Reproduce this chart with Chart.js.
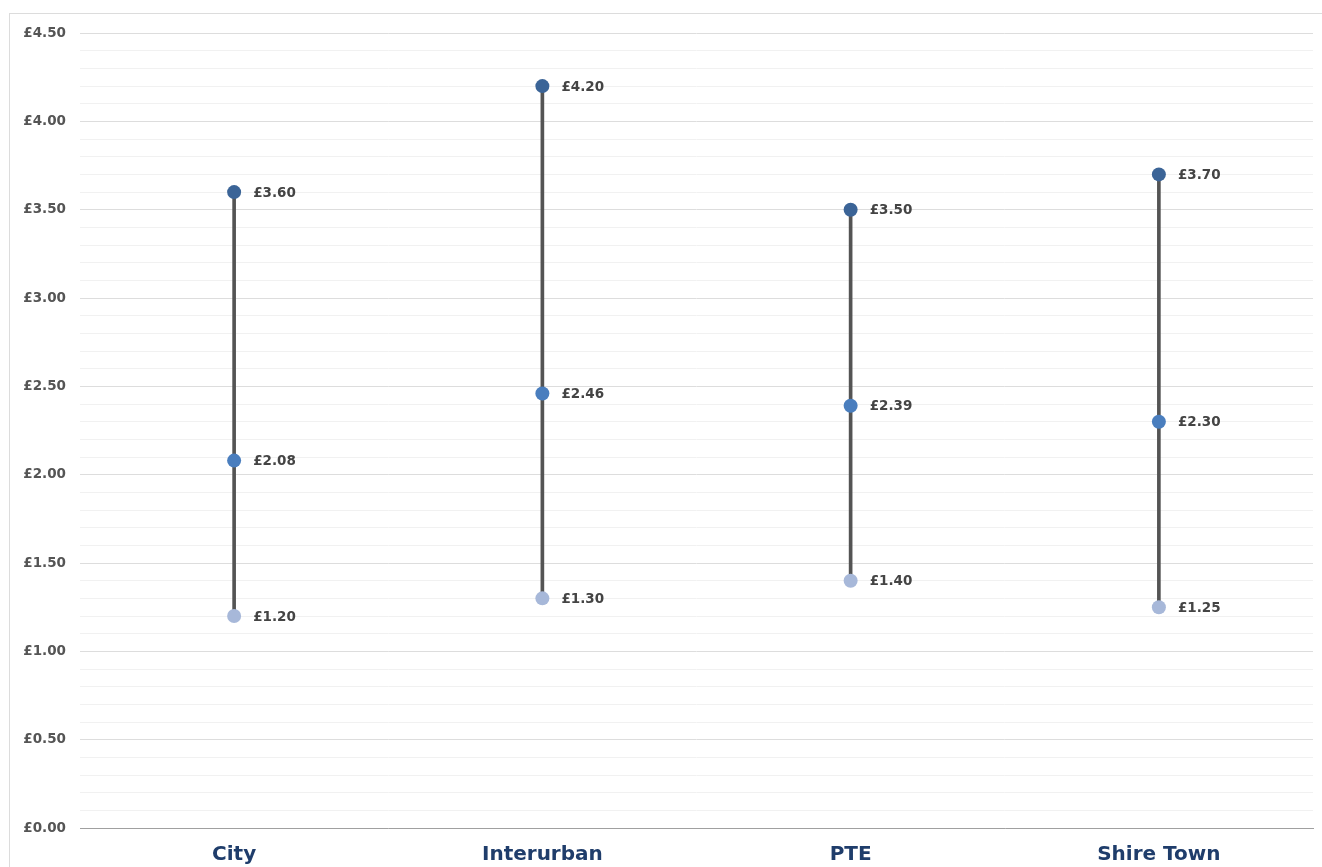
<!DOCTYPE html>
<html>
<head>
<meta charset="utf-8">
<script src="https://cdn.jsdelivr.net/npm/chart.js@4"></script>
<style>
    html, body { margin: 0; padding: 0; background: #fff; overflow: hidden; }
    #box {
        position: absolute;
        left: 9px;
        top: 13px;
        width: 1313px;
        height: 854px;
        border-top: 1px solid #dcdcdc;
        border-left: 1px solid #dcdcdc;
        overflow: hidden;
    }
    #wrap { position: absolute; left: 0; top: -3px; width: 1313px; height: 863px; }
</style>
</head>
<body>
<div id="box"><div id="wrap"><canvas id="rangeChart"></canvas></div></div>
<script>
const categories = ['City', 'Interurban', 'PTE', 'Shire Town'];
const maxFare = [3.60, 4.20, 3.50, 3.70];
const avgFare = [2.08, 2.46, 2.39, 2.30];
const minFare = [1.20, 1.30, 1.40, 1.25];
const yMin = 0;
const yMax = 4.5;

const FONT = "'DejaVu Sans', Verdana, sans-serif";
const money = v => '£' + v.toFixed(2);

// value labels to the right of each point
const pointLabels = {
    id: 'pointLabels',
    afterDatasetsDraw(chart) {
        const ctx = chart.ctx;
        ctx.save();
        ctx.font = 'bold 13.5px ' + FONT;
        ctx.fillStyle = '#444';
        ctx.textBaseline = 'middle';
        ctx.textAlign = 'left';
        chart.data.datasets.forEach((ds, i) => {
            if (ds.type !== 'line') return;
            chart.getDatasetMeta(i).data.forEach((pt, j) => {
                ctx.fillText(money(ds.data[j]), pt.x + 19, pt.y + 1);
            });
        });
        ctx.restore();
    }
};

const ctx = document.getElementById('rangeChart').getContext('2d');
new Chart(ctx, {
    type: 'bar',
    data: {
        labels: categories,
        datasets: [
            {
                type: 'line',
                label: 'Max',
                data: maxFare,
                showLine: false,
                pointRadius: 7,
                pointHoverRadius: 7,
                pointBackgroundColor: '#3b6497',
                pointBorderWidth: 0,
                order: 1
            },
            {
                type: 'line',
                label: 'Average',
                data: avgFare,
                showLine: false,
                pointRadius: 7,
                pointHoverRadius: 7,
                pointBackgroundColor: '#4a7ebe',
                pointBorderWidth: 0,
                order: 1
            },
            {
                type: 'line',
                label: 'Min',
                data: minFare,
                showLine: false,
                pointRadius: 7,
                pointHoverRadius: 7,
                pointBackgroundColor: '#a7b8d9',
                pointBorderWidth: 0,
                order: 1
            },
            {
                type: 'bar',
                label: 'Range',
                data: categories.map((c, i) => [minFare[i], maxFare[i]]),
                backgroundColor: '#545454',
                barThickness: 3,
                order: 2
            }
        ]
    },
    options: {
        responsive: true,
        maintainAspectRatio: false,
        animation: false,
        layout: { padding: { top: 6, right: 10, left: 0, bottom: 0 } },
        plugins: {
            legend: { display: false },
            tooltip: { enabled: false }
        },
        scales: {
            x: {
                offset: true,
                grid: { display: false },
                border: { display: true, color: '#a0a0a0', width: 1 },
                ticks: {
                    color: '#1f3d6b',
                    padding: 7,
                    font: { size: 20, weight: 'bold', family: FONT }
                }
            },
            y: {
                min: yMin,
                max: yMax,
                afterFit(scale) { scale.width = 70; },
                border: { display: false },
                grid: {
                    color: c => (Math.round(c.tick.value * 10) % 5 === 0) ? '#dddddd' : '#f1f1f1',
                    drawTicks: false
                },
                ticks: {
                    stepSize: 0.1,
                    autoSkip: false,
                    padding: 14,
                    color: '#555',
                    font: { size: 13.5, weight: 'bold', family: FONT },
                    callback: v => (Math.round(v * 10) % 5 === 0) ? money(v) : ''
                }
            }
        }
    },
    plugins: [pointLabels]
});
</script>
</body>
</html>
